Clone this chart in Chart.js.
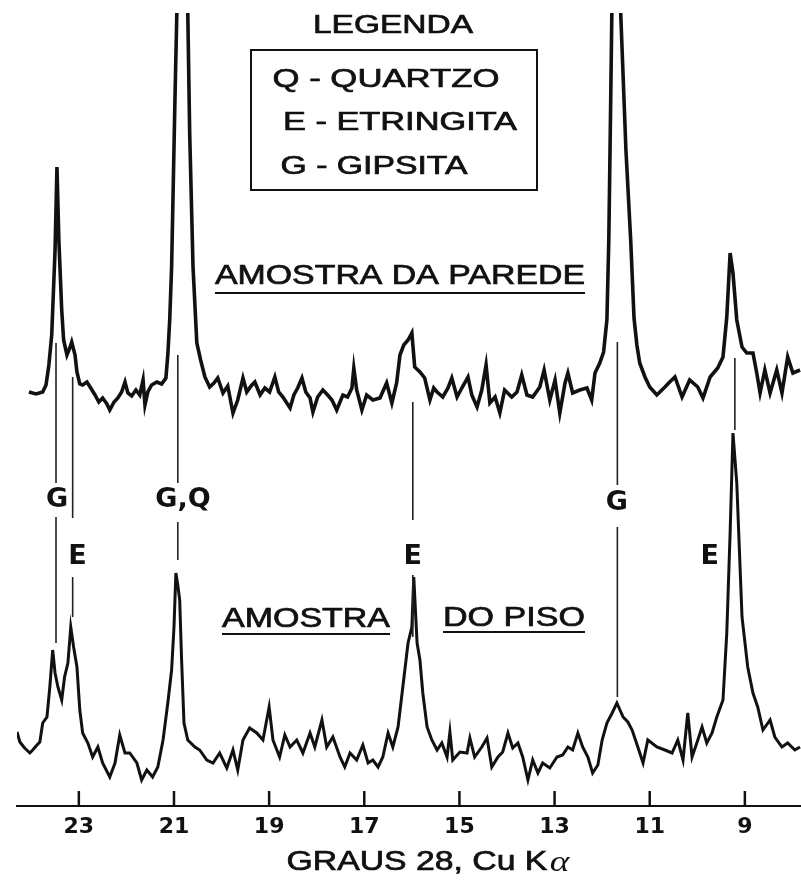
<!DOCTYPE html>
<html>
<head>
<meta charset="utf-8">
<script src="https://cdn.jsdelivr.net/npm/chart.js@4.4.1/dist/chart.umd.min.js"></script>
<style>
  html, body { margin: 0; padding: 0; background: #fff; }
  #wrap { width: 801px; height: 884px; position: relative; }
</style>
</head>
<body>
<div id="wrap"><canvas id="xrd-chart"></canvas></div>
<script>
// Diffractogram traces: 2-theta (degrees) and intensity (arbitrary units)
const wallAngle = [
  24.05, 23.90, 23.76, 23.69, 23.63, 23.57, 23.50, 23.46, 23.42, 23.36, 23.32, 23.25, 23.19, 23.15, 23.08, 23.04,
  22.98, 22.92, 22.83, 22.75, 22.66, 22.58, 22.50, 22.41, 22.35, 22.26, 22.18, 22.10, 22.03, 21.97, 21.89, 21.80,
  21.72, 21.65, 21.61, 21.55, 21.47, 21.36, 21.26, 21.17, 21.13, 21.09, 21.05, 20.98, 20.94, 20.84, 20.71, 20.67,
  20.60, 20.52, 20.44, 20.35, 20.25, 20.16, 20.08, 19.97, 19.87, 19.76, 19.66, 19.55, 19.47, 19.38, 19.30, 19.19,
  19.09, 18.99, 18.88, 18.80, 18.71, 18.56, 18.48, 18.40, 18.31, 18.23, 18.14, 18.08, 17.98, 17.87, 17.77, 17.68,
  17.58, 17.45, 17.35, 17.26, 17.22, 17.16, 17.05, 16.95, 16.82, 16.67, 16.53, 16.42, 16.32, 16.25, 16.17, 16.08,
  16.00, 15.94, 15.83, 15.73, 15.62, 15.54, 15.47, 15.35, 15.24, 15.16, 15.05, 14.95, 14.82, 14.74, 14.63, 14.53,
  14.44, 14.36, 14.25, 14.15, 14.05, 13.90, 13.79, 13.69, 13.58, 13.46, 13.31, 13.22, 13.10, 12.99, 12.89, 12.78,
  12.72, 12.62, 12.47, 12.32, 12.22, 12.15, 12.05, 11.97, 11.90, 11.86, 11.82, 11.71, 11.61, 11.50, 11.40, 11.33,
  11.27, 11.21, 11.10, 11.00, 10.85, 10.68, 10.58, 10.47, 10.32, 10.16, 9.99, 9.88, 9.73, 9.57, 9.46, 9.38,
  9.31, 9.25, 9.17, 9.06, 8.96, 8.83, 8.75, 8.68, 8.58, 8.47, 8.33, 8.22, 8.10, 7.99, 7.84
];
const wallCounts = [
  414, 412, 414, 421, 441, 471, 556, 639, 566, 496, 466, 451, 458, 464, 451, 434,
  422, 421, 424, 418, 411, 404, 408, 402, 396, 404, 408, 414, 424, 413, 410, 416,
  411, 426, 401, 414, 421, 424, 422, 428, 451, 486, 539, 706, 793, 1106, 793, 673,
  539, 463, 446, 429, 419, 423, 428, 413, 420, 393, 406, 428, 414, 420, 424, 411,
  418, 414, 429, 414, 409, 398, 411, 418, 428, 414, 408, 394, 409, 416, 411, 406,
  396, 411, 409, 418, 438, 416, 396, 411, 406, 408, 423, 403, 423, 451, 461, 466,
  473, 439, 434, 428, 406, 418, 414, 409, 418, 428, 409, 418, 429, 411, 399, 416,
  441, 403, 409, 393, 416, 409, 414, 431, 411, 409, 419, 436, 406, 426, 393, 423,
  433, 413, 416, 418, 406, 433, 443, 454, 486, 566, 706, 1106, 793, 656, 566, 488,
  461, 443, 429, 419, 411, 419, 424, 429, 409, 426, 419, 408, 429, 438, 449, 489,
  553, 533, 486, 459, 453, 453, 433, 413, 436, 413, 436, 413, 449, 433, 436
];

const floorAngle = [
  24.30, 24.24, 24.14, 24.03, 23.97, 23.88, 23.82, 23.76, 23.67, 23.61, 23.55, 23.50, 23.44, 23.36, 23.30, 23.23,
  23.17, 23.11, 23.04, 22.98, 22.92, 22.81, 22.71, 22.60, 22.50, 22.35, 22.24, 22.14, 22.03, 21.93, 21.78, 21.68,
  21.57, 21.45, 21.34, 21.23, 21.13, 21.05, 21.00, 20.96, 20.92, 20.88, 20.84, 20.79, 20.71, 20.56, 20.46, 20.31,
  20.18, 20.04, 19.89, 19.76, 19.66, 19.55, 19.41, 19.26, 19.13, 19.00, 18.92, 18.78, 18.67, 18.56, 18.42, 18.29,
  18.14, 18.04, 17.89, 17.79, 17.66, 17.51, 17.41, 17.30, 17.16, 17.03, 16.92, 16.82, 16.71, 16.61, 16.50, 16.40,
  16.29, 16.19, 16.08, 16.00, 15.96, 15.89, 15.83, 15.77, 15.68, 15.58, 15.47, 15.37, 15.26, 15.20, 15.14, 14.99,
  14.84, 14.78, 14.68, 14.53, 14.42, 14.32, 14.19, 14.09, 13.98, 13.88, 13.77, 13.67, 13.56, 13.46, 13.35, 13.25,
  13.10, 12.95, 12.83, 12.72, 12.62, 12.51, 12.41, 12.30, 12.20, 12.09, 12.00, 11.90, 11.79, 11.69, 11.56, 11.46,
  11.37, 11.25, 11.14, 11.04, 10.85, 10.68, 10.53, 10.41, 10.30, 10.20, 10.11, 10.01, 9.90, 9.80, 9.69, 9.59,
  9.46, 9.38, 9.31, 9.25, 9.17, 9.06, 8.94, 8.83, 8.73, 8.62, 8.47, 8.37, 8.22, 8.10, 7.95, 7.84
];
const floorCounts = [
  74, 64, 58, 53, 56, 61, 64, 83, 89, 119, 156, 133, 119, 106, 129, 143,
  179, 159, 139, 96, 73, 63, 49, 59, 43, 29, 43, 71, 53, 53, 43, 26,
  36, 29, 39, 66, 103, 136, 179, 233, 221, 206, 146, 83, 66, 59, 56, 46,
  43, 53, 38, 56, 36, 66, 78, 73, 66, 99, 66, 49, 71, 59, 66, 53,
  73, 59, 86, 59, 69, 49, 39, 53, 46, 61, 43, 46, 39, 49, 73, 59,
  79, 119, 163, 179, 229, 163, 146, 113, 79, 66, 56, 63, 49, 74, 46, 54,
  53, 68, 49, 59, 68, 39, 49, 54, 73, 58, 63, 49, 26, 46, 33, 43,
  38, 49, 51, 59, 56, 73, 59, 49, 33, 41, 66, 83, 93, 103, 89, 84,
  76, 59, 43, 66, 59, 56, 53, 66, 46, 93, 49, 63, 79, 63, 73, 89,
  106, 173, 273, 373, 323, 189, 139, 113, 99, 76, 86, 69, 59, 63, 56, 59
];

const tickValues = [23, 21, 19, 17, 15, 13, 11, 9];

// Phase identification lines and their letters
const markerAngle = [23.48, 23.13, 20.92, 15.98, 11.68, 9.21];
const markerLabel = ["G", "E", "G,Q", "E", "G", "E"];
const markerLabelAngle = [23.46, 23.03, 20.81, 15.98, 11.69, 9.74];
const markerLabelCounts = [306, 249, 306, 249, 303, 249];
const markerUpper = [[463, 323], [429, 288], [451, 323], [404, 286], [464, 321], [448, 376]];
const markerLower = [[289, 163], [229, 189], [284, 246], [231, 169], [279, 109], null];

const legendLines = ["Q - QUARTZO", "E - ETRINGITA", "G - GIPSITA"];
const axisTitle = "GRAUS 28, Cu K";

function toPoints(xs, ys) {
  return xs.map((x, i) => ({ x: x, y: ys[i] }));
}

// draws text squeezed or widened to a given width, slightly heavier than the raw font
function stretchText(ctx, text, cx, cy, font, width) {
  ctx.save();
  ctx.font = font;
  const w = ctx.measureText(text).width;
  ctx.translate(cx, cy);
  ctx.scale(width / w, 1);
  ctx.textAlign = "center";
  ctx.textBaseline = "middle";
  ctx.lineWidth = 0.7;
  ctx.fillText(text, 0, 0);
  ctx.strokeText(text, 0, 0);
  ctx.restore();
}

function underline(ctx, x1, x2, y) {
  ctx.beginPath();
  ctx.moveTo(x1, y);
  ctx.lineTo(x2, y);
  ctx.stroke();
}

const annotations = {
  id: "annotations",
  afterDraw(chart) {
    const ctx = chart.ctx;
    const xs = chart.scales.x;
    const ys = chart.scales.y;
    const axisY = chart.chartArea.bottom;
    ctx.save();
    ctx.fillStyle = "#111";
    ctx.strokeStyle = "#111";

    // tick marks pointing up from the axis
    ctx.lineWidth = 2.5;
    for (const v of tickValues) {
      const px = xs.getPixelForValue(v);
      ctx.beginPath();
      ctx.moveTo(px, axisY + 1);
      ctx.lineTo(px, axisY - 15);
      ctx.stroke();
    }

    // guide lines at the peak positions
    ctx.strokeStyle = "#222";
    ctx.lineWidth = 1.6;
    markerAngle.forEach((a, i) => {
      const px = xs.getPixelForValue(a);
      [markerUpper[i], markerLower[i]].forEach((seg) => {
        if (!seg) return;
        ctx.beginPath();
        ctx.moveTo(px, ys.getPixelForValue(seg[0]));
        ctx.lineTo(px, ys.getPixelForValue(seg[1]));
        ctx.stroke();
      });
      ctx.font = "bold 27px 'DejaVu Sans'";
      ctx.textAlign = "center";
      ctx.textBaseline = "middle";
      ctx.fillText(markerLabel[i], xs.getPixelForValue(markerLabelAngle[i]), ys.getPixelForValue(markerLabelCounts[i]));
    });

    ctx.strokeStyle = "#111";

    // legend
    stretchText(ctx, "LEGENDA", 393, 26, "25px 'Liberation Sans'", 160);
    ctx.lineWidth = 2;
    ctx.strokeRect(251, 50, 286, 140);
    stretchText(ctx, legendLines[0], 386, 80, "26px 'Liberation Sans'", 227);
    stretchText(ctx, legendLines[1], 400, 123, "25px 'Liberation Sans'", 234);
    stretchText(ctx, legendLines[2], 374, 167, "25px 'Liberation Sans'", 187);

    // sample names
    stretchText(ctx, "AMOSTRA DA PAREDE", 400, 277, "27px 'Liberation Sans'", 370);
    ctx.lineWidth = 2;
    underline(ctx, 215, 585, 293);
    stretchText(ctx, "AMOSTRA", 306, 620, "27px 'Liberation Sans'", 168);
    ctx.lineWidth = 2;
    underline(ctx, 222, 390, 634);
    stretchText(ctx, "DO PISO", 514, 619, "27px 'Liberation Sans'", 142);
    ctx.lineWidth = 2;
    underline(ctx, 443, 585, 632);

    // axis title with italic alpha
    const mainFont = "27px 'Liberation Sans'";
    const alphaFont = "italic 30px 'Liberation Serif'";
    ctx.font = mainFont;
    const w1 = ctx.measureText(axisTitle).width;
    ctx.font = alphaFont;
    const w2 = ctx.measureText("α").width;
    const total = 283;
    const k = total / (w1 + w2 + 2);
    ctx.translate(428 - total / 2, 863);
    ctx.scale(k, 1);
    ctx.textAlign = "left";
    ctx.textBaseline = "middle";
    ctx.lineWidth = 0.7;
    ctx.font = mainFont;
    ctx.fillText(axisTitle, 0, 0);
    ctx.strokeText(axisTitle, 0, 0);
    ctx.font = alphaFont;
    ctx.fillText("α", w1 + 2, 0);
    ctx.restore();
  },
};

const ctx = document.getElementById("xrd-chart").getContext("2d");

new Chart(ctx, {
  type: "line",
  data: {
    datasets: [
      {
        label: "Amostra da parede",
        data: toPoints(wallAngle, wallCounts),
        borderColor: "#111",
        borderWidth: 3.6,
        pointRadius: 0,
        tension: 0,
        fill: false,
      },
      {
        label: "Amostra do piso",
        data: toPoints(floorAngle, floorCounts),
        borderColor: "#111",
        borderWidth: 3,
        pointRadius: 0,
        tension: 0,
        fill: false,
      },
    ],
  },
  options: {
    responsive: true,
    maintainAspectRatio: false,
    animation: false,
    layout: { padding: { top: 13, left: 17, right: 0, bottom: 0 } },
    scales: {
      x: {
        type: "linear",
        reverse: true,
        min: 7.82,
        max: 24.3,
        afterBuildTicks: (scale) => {
          scale.ticks = tickValues.map((v) => ({ value: v }));
        },
        afterFit: (scale) => {
          scale.height = 78;
        },
        grid: {
          drawOnChartArea: false,
          drawTicks: false,
        },
        border: { display: true, color: "#111", width: 2 },
        ticks: {
          color: "#111",
          font: { family: "DejaVu Sans", weight: "bold", size: 22 },
          padding: 8,
          maxRotation: 0,
          autoSkip: false,
        },
      },
      y: {
        display: false,
        min: 0,
        max: 793,
      },
    },
    plugins: {
      legend: { display: false },
      tooltip: { enabled: false },
    },
  },
  plugins: [annotations],
});
</script>
</body>
</html>
